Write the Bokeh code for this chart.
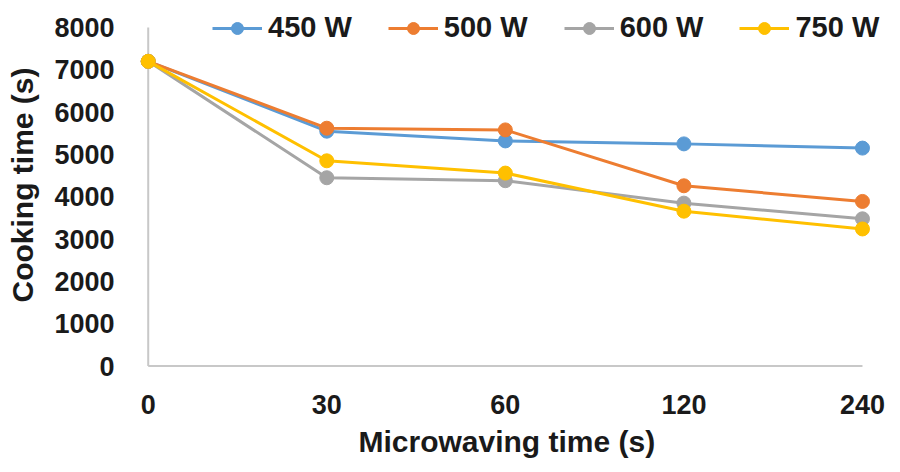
from bokeh.plotting import figure
from bokeh.models import Range1d, FixedTicker, Legend, LegendItem, ColumnDataSource, Title
from bokeh.embed import file_html
from bokeh.resources import INLINE

categories = ["0", "30", "60", "120", "240"]
series_names = ["450 W", "500 W", "600 W", "750 W"]
w450 = [7200, 5550, 5320, 5250, 5150]
w500 = [7200, 5620, 5580, 4260, 3890]
w600 = [7200, 4450, 4380, 3850, 3480]
w750 = [7200, 4850, 4560, 3660, 3240]
y_ticks = [0, 1000, 2000, 3000, 4000, 5000, 6000, 7000, 8000]
colors = ["#5B9BD5", "#ED7D31", "#A5A5A5", "#FFC000"]

FONT = "Liberation Sans"
x = list(range(len(categories)))
n = len(categories)

p = figure(width=900, height=472, output_backend="svg", toolbar_location=None,
           x_range=Range1d(-0.06, n - 1 + 0.213), y_range=Range1d(-80, 8637),
           min_border_left=137, min_border_right=0, min_border_top=0, min_border_bottom=103)
p.outline_line_color = None
p.xgrid.grid_line_color = None
p.ygrid.grid_line_color = None
p.background_fill_color = "white"
p.border_fill_color = "white"

# axis lines drawn at the category/data extents
axis_col = "#C8C8C8"
p.segment(x0=[0, 0], y0=[0, 0], x1=[n - 1, 0], y1=[0, y_ticks[-1]], line_color=axis_col, line_width=2)

for ax in (p.xaxis[0], p.yaxis[0]):
    ax.axis_line_color = None
    ax.major_tick_line_color = None
    ax.minor_tick_line_color = None
    ax.major_label_text_font = FONT
    ax.major_label_text_font_style = "bold"
    ax.major_label_text_font_size = "27px"
    ax.major_label_text_color = "#1a1a1a"
    ax.axis_label_text_font = FONT
    ax.axis_label_text_font_style = "bold"
    ax.axis_label_text_font_size = "30px"
    ax.axis_label_text_color = "#1a1a1a"

p.xaxis.ticker = FixedTicker(ticks=x)
p.xaxis.major_label_overrides = {i: c for i, c in zip(x, categories)}
p.xaxis.major_label_standoff = 19
p.yaxis.ticker = FixedTicker(ticks=y_ticks)
p.yaxis.axis_label = "Cooking time (s)"
p.yaxis.major_label_standoff = 17
p.yaxis.axis_label_standoff = 12

xtitle = Title(text="Microwaving time (s)", align="left", offset=221, standoff=13,
               text_font=FONT, text_font_style="bold", text_font_size="30px",
               text_color="#1a1a1a")
p.add_layout(xtitle, "below")

items = []
for name, vals, col in zip(series_names, [w450, w500, w600, w750], colors):
    src = ColumnDataSource(dict(x=x, y=vals))
    l = p.line("x", "y", source=src, line_color=col, line_width=3)
    c = p.scatter("x", "y", source=src, size=14, fill_color=col, line_color=col)
    items.append(LegendItem(label=name, renderers=[l, c]))

legend = Legend(items=items, orientation="horizontal", location=(75, 325),
                label_text_font=FONT, label_text_font_style="bold", label_text_font_size="29px",
                label_text_color="#1a1a1a", glyph_width=50, glyph_height=30, label_standoff=6,
                spacing=36, padding=0, margin=0, background_fill_alpha=0, border_line_color=None)
p.add_layout(legend, "center")

open("out.html", "w").write(file_html(p, INLINE))
